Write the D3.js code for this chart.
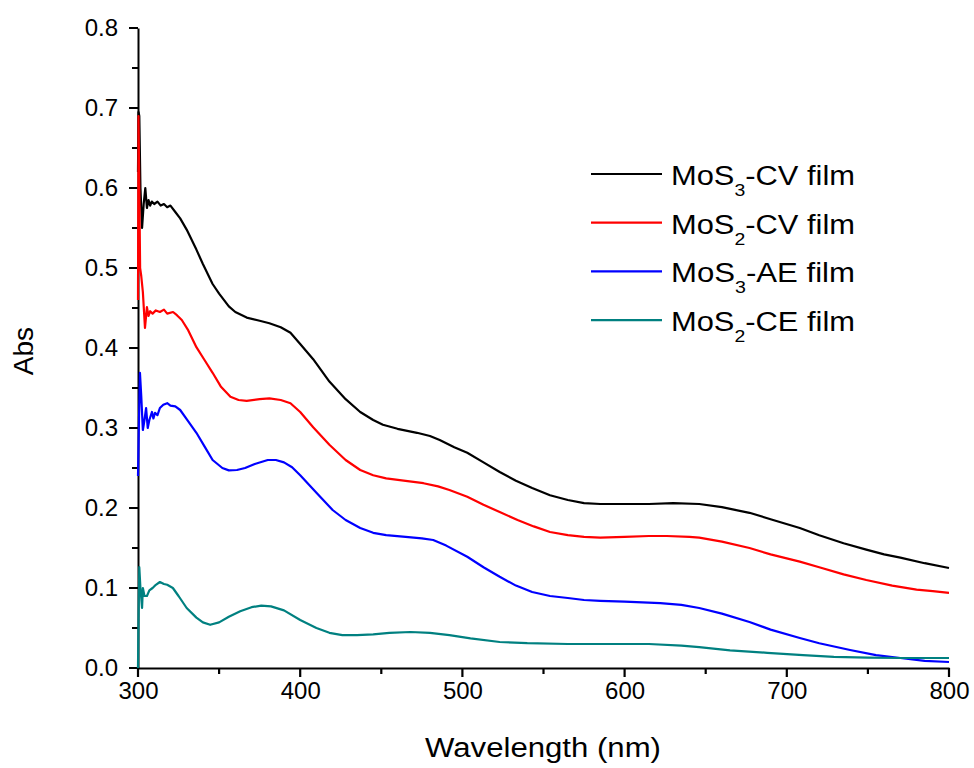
<!DOCTYPE html>
<html>
<head>
<meta charset="utf-8">
<script src="https://cdn.jsdelivr.net/npm/d3@7"></script>
<style>
  html, body { margin: 0; padding: 0; background: #fff; }
  svg { display: block; font-family: Arial, "Liberation Sans", sans-serif; }
</style>
</head>
<body>
<svg id="chart" width="974" height="768"></svg>
<script>
// ---- data ----
const xTicks = [300, 400, 500, 600, 700, 800];
const yTicks = [0.0, 0.1, 0.2, 0.3, 0.4, 0.5, 0.6, 0.7, 0.8];
const xMinorTicks = [350, 450, 550, 650, 750];
const yMinorTicks = [0.05, 0.15, 0.25, 0.35, 0.45, 0.55, 0.65, 0.75];

const mos3CV = [[300,0.62],[300.3,0.695],[300.8,0.69],[301.5,0.60],[302.5,0.55],[303.5,0.58],[304.5,0.60],[305.5,0.575],[306.5,0.585],[307.5,0.578],[308.5,0.583],[310,0.58],[312,0.583],[314,0.578],[316,0.58],[318,0.576],[320,0.578],[323,0.57],[326,0.562],[330,0.548],[336,0.523],[340,0.505],[346,0.48],[350,0.468],[356,0.452],[360,0.445],[367,0.438],[375,0.434],[381,0.431],[388,0.426],[394,0.419],[400,0.405],[408,0.386],[418,0.358],[428,0.336],[437,0.32],[445,0.31],[451,0.304],[460,0.299],[472,0.294],[480,0.29],[486,0.285],[495,0.276],[503,0.269],[513,0.257],[523,0.245],[533,0.234],[543,0.225],[554,0.216],[565,0.21],[575,0.206],[585,0.205],[600,0.205],[615,0.205],[630,0.206],[646,0.205],[660,0.201],[677,0.194],[690,0.186],[708,0.175],[720,0.166],[735,0.156],[749,0.148],[760,0.142],[770,0.138],[785,0.131],[800,0.125]];

const mos2CV = [[300,0.46],[300.3,0.69],[300.8,0.60],[301.3,0.50],[302,0.49],[303,0.47],[304.3,0.425],[305.5,0.451],[306.5,0.44],[307.5,0.446],[309,0.443],[311,0.447],[313.5,0.445],[316,0.448],[318,0.443],[321.6,0.445],[324,0.441],[327,0.435],[331,0.422],[336,0.401],[341,0.385],[346,0.369],[351,0.352],[357,0.339],[362,0.335],[367,0.334],[375,0.336],[381,0.337],[388,0.335],[394,0.331],[400,0.32],[408,0.301],[418,0.279],[428,0.26],[437,0.2475],[445,0.241],[453,0.237],[465,0.234],[476,0.231],[485,0.227],[492,0.2225],[503,0.214],[513,0.204],[523,0.195],[534,0.185],[544,0.177],[554,0.17],[565,0.166],[575,0.164],[585,0.163],[600,0.164],[615,0.165],[626,0.165],[640,0.164],[646,0.163],[660,0.158],[677,0.15],[690,0.142],[708,0.133],[720,0.126],[735,0.117],[749,0.11],[765,0.103],[780,0.098],[790,0.096],[800,0.094]];

const mos3AE = [[300,0.24],[300.5,0.30],[301.2,0.369],[302,0.34],[303,0.2975],[304,0.31],[305,0.325],[306,0.30],[307,0.31],[308.6,0.32],[309.5,0.312],[310.5,0.319],[312,0.316],[313.5,0.325],[315.6,0.329],[318,0.331],[320,0.328],[323,0.327],[326,0.3225],[330,0.311],[336,0.294],[341,0.277],[346,0.26],[352,0.25],[356,0.247],[361,0.2475],[366,0.25],[372,0.255],[380,0.26],[385,0.26],[390,0.257],[395,0.251],[400,0.241],[410,0.219],[420,0.1975],[428,0.185],[437,0.175],[445,0.169],[453,0.166],[465,0.164],[475,0.162],[482,0.16],[490,0.153],[503,0.139],[513,0.126],[523,0.114],[533,0.103],[543,0.095],[554,0.09],[565,0.0875],[575,0.085],[585,0.084],[600,0.083],[622,0.081],[635,0.079],[646,0.075],[660,0.068],[677,0.0575],[690,0.048],[708,0.0375],[720,0.031],[739,0.0225],[755,0.016],[770,0.0125],[785,0.009],[800,0.0075]];

const mos2CE = [[300,0.0],[300.3,0.06],[300.8,0.126],[301.5,0.10],[302.5,0.075],[303,0.10],[304,0.09],[305.5,0.09],[307,0.097],[309,0.1],[311,0.104],[313.5,0.1075],[316,0.105],[318,0.104],[321.5,0.1],[325,0.09],[330,0.075],[336,0.063],[340,0.057],[344.5,0.054],[350,0.057],[356,0.064],[363,0.071],[370,0.076],[376,0.078],[382,0.077],[390,0.072],[400,0.06],[410,0.05],[418,0.044],[426,0.041],[435,0.041],[445,0.042],[455,0.044],[468,0.045],[480,0.044],[492,0.041],[505,0.037],[523,0.0325],[540,0.031],[565,0.03],[585,0.030],[615,0.030],[635,0.028],[646,0.026],[665,0.022],[688,0.019],[710,0.016],[729,0.014],[750,0.013],[770,0.0125],[800,0.0125]];

const seriesNames = [
  {base: "MoS", sub: "3", rest: "-CV film"},
  {base: "MoS", sub: "2", rest: "-CV film"},
  {base: "MoS", sub: "3", rest: "-AE film"},
  {base: "MoS", sub: "2", rest: "-CE film"}
];
const seriesData = [mos3CV, mos2CV, mos3AE, mos2CE];
const seriesColors = ["#000000", "#ff0000", "#0000ff", "#008080"];

// ---- layout ----
const svg = d3.select("#chart");
const plotLeft = 138, plotRight = 949, plotTop = 28, plotBottom = 668;

const x = d3.scaleLinear().domain([300, 800]).range([plotLeft, plotRight]);
const y = d3.scaleLinear().domain([0, 0.8]).range([plotBottom, plotTop]);

// axes (labels + domain line) via d3.axis
svg.append("g").attr("class", "axis")
  .attr("transform", `translate(0,${plotBottom})`)
  .call(d3.axisBottom(x).tickValues(xTicks).tickSize(0).tickSizeOuter(0).tickPadding(14).tickFormat(d3.format("d")));
svg.append("g").attr("class", "axis")
  .attr("transform", `translate(${plotLeft},0)`)
  .call(d3.axisLeft(y).tickValues(yTicks).tickSize(0).tickSizeOuter(0).tickPadding(20).tickFormat(d3.format(".1f")));

svg.selectAll(".axis .domain").attr("stroke", "#000").attr("stroke-width", 2);
svg.selectAll(".axis .tick text").attr("font-size", 24).attr("fill", "#000")
   .attr("font-family", "Arial, 'Liberation Sans', sans-serif");

// tick marks as one path, positions from the scales
let tickD = "";
xTicks.forEach(v => { tickD += `M${x(v)},${plotBottom}v9`; });
xMinorTicks.forEach(v => { tickD += `M${x(v)},${plotBottom}v6`; });
yTicks.forEach(v => { tickD += `M${plotLeft},${y(v)}h-9`; });
yMinorTicks.forEach(v => { tickD += `M${plotLeft},${y(v)}h-6`; });
svg.append("path")
  .attr("d", tickD)
  .attr("fill", "none")
  .attr("stroke", "#000")
  .attr("stroke-width", 2.2);

// lines
const line = d3.line().x(d => x(d[0])).y(d => y(d[1]));
seriesData.forEach((data, i) => {
  svg.append("path")
    .datum(data)
    .attr("fill", "none")
    .attr("stroke", seriesColors[i])
    .attr("stroke-width", 2.2)
    .attr("stroke-linejoin", "round")
    .attr("d", line);
});

// axis titles
svg.append("text")
  .attr("x", 543).attr("y", 757)
  .attr("text-anchor", "middle")
  .attr("font-size", 27)
  .attr("textLength", 236).attr("lengthAdjust", "spacingAndGlyphs")
  .text("Wavelength (nm)");

svg.append("text")
  .attr("transform", "translate(33,351) rotate(-90)")
  .attr("text-anchor", "middle")
  .attr("font-size", 28)
  .text("Abs");

// legend
const legX1 = 591, legX2 = 662, legTextX = 671, legY0 = 174, legDy = 48.7;
seriesNames.forEach((n, i) => {
  const yy = legY0 + i * legDy;
  svg.append("line")
    .attr("x1", legX1).attr("x2", legX2).attr("y1", yy).attr("y2", yy)
    .attr("stroke", seriesColors[i]).attr("stroke-width", 2.2);
  const t = svg.append("text")
    .attr("x", legTextX).attr("y", yy + 11)
    .attr("font-size", 27)
    .attr("textLength", 184).attr("lengthAdjust", "spacingAndGlyphs");
  t.append("tspan").text(n.base);
  t.append("tspan").attr("font-size", 17).attr("dy", 11).text(n.sub);
  t.append("tspan").attr("dy", -11).text(n.rest);
});
</script>
</body>
</html>
